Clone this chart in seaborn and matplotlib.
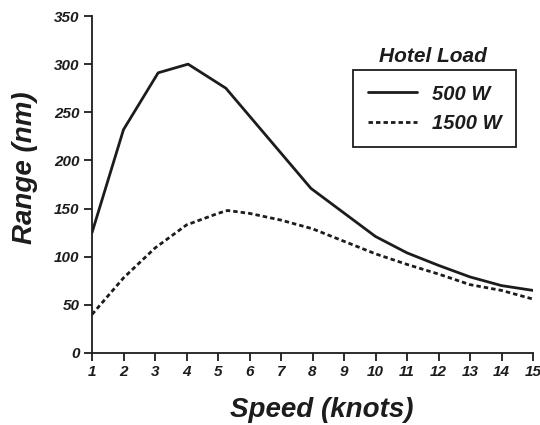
import matplotlib
matplotlib.use("Agg")
import matplotlib.pyplot as plt
import seaborn as sns
import pandas as pd

# Data
speed_500 = [1, 2, 3.1, 4.05, 5.25, 7.95, 10, 11, 12, 13, 14, 15]
range_500 = [125, 232, 291, 300, 275, 171, 121, 104, 91, 79, 70, 65]
speed_1500 = [1, 2, 3, 4, 5, 5.3, 6, 7, 8, 9, 10, 11, 12, 13, 14, 15]
range_1500 = [40, 78, 109, 133, 145, 148, 145, 138, 129, 116, 103, 92, 82, 71, 65, 56]
load_labels = ["500 W", "1500 W"]
x_ticks = list(range(1, 16))
y_ticks = [0, 50, 100, 150, 200, 250, 300, 350]

df = pd.concat([
    pd.DataFrame({"Speed": speed_500, "Range": range_500, "Load": load_labels[0]}),
    pd.DataFrame({"Speed": speed_1500, "Range": range_1500, "Load": load_labels[1]}),
], ignore_index=True)

sns.set_style("ticks")
plt.rcParams["font.family"] = ["Liberation Sans", "DejaVu Sans"]

ink = "#1c1c1c"
fig = plt.figure(figsize=(5.4, 4.25), dpi=100)
ax = fig.add_axes([92 / 540, 1 - 353 / 425, (533 - 92) / 540, (353 - 16) / 425])

sns.lineplot(data=df, x="Speed", y="Range", style="Load",
             style_order=load_labels,
             dashes={load_labels[0]: "", load_labels[1]: (1.6, 1.1)},
             color=ink, linewidth=2.0, sort=False, ax=ax, legend=True)

ax.set_xlim(1, 15)
ax.set_ylim(0, 350)
ax.set_xticks(x_ticks)
ax.set_yticks(y_ticks)
for s in ["top", "right"]:
    ax.spines[s].set_visible(False)
for s in ["left", "bottom"]:
    ax.spines[s].set_color(ink)
    ax.spines[s].set_linewidth(1.3)
ax.tick_params(axis="both", colors=ink, width=1.3, length=6, pad=3)
for lab in ax.get_xticklabels() + ax.get_yticklabels():
    lab.set_fontsize(11)
    lab.set_fontweight("bold")
    lab.set_fontstyle("italic")
    lab.set_color(ink)

ax.set_xlabel("Speed (knots)", fontsize=20, fontweight="bold", fontstyle="italic", color=ink)
ax.set_ylabel("Range (nm)", fontsize=20, fontweight="bold", fontstyle="italic", color=ink)
ax.xaxis.set_label_coords(0.52, -0.132)
ax.yaxis.set_label_coords(-0.122, 0.55)

handles, labels = ax.get_legend_handles_labels()
leg = ax.legend(handles, labels, loc="upper left",
                bbox_to_anchor=(353 / 540, 1 - 70 / 425), bbox_transform=fig.transFigure,
                frameon=True, fancybox=False, edgecolor=ink, framealpha=1,
                prop={"family": "Liberation Sans", "weight": "bold", "style": "italic", "size": 14.5},
                handlelength=2.45, handletextpad=0.75, labelspacing=0.5, borderpad=0.72,
                borderaxespad=0)
leg.get_frame().set_linewidth(1.3)
for t in leg.get_texts():
    t.set_color(ink)

fig.text(433 / 540, 1 - 57 / 425, "Hotel Load", ha="center", va="center",
         fontsize=15, fontweight="bold", fontstyle="italic", color=ink)

fig.savefig("out.png", dpi=100)
